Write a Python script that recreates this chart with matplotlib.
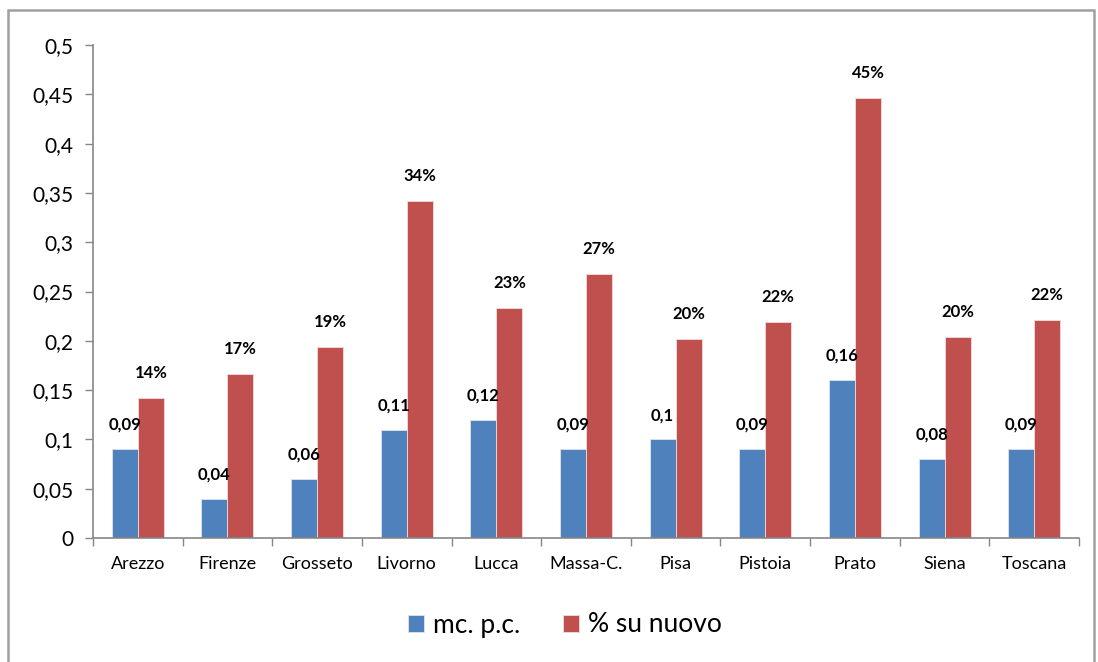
import matplotlib
matplotlib.use("Agg")
import matplotlib.pyplot as plt
import numpy as np
from matplotlib.patches import Rectangle

categories = ["Arezzo", "Firenze", "Grosseto", "Livorno", "Lucca", "Massa-C.",
              "Pisa", "Pistoia", "Prato", "Siena", "Toscana"]
mc_pc = [0.09, 0.04, 0.06, 0.11, 0.12, 0.09, 0.10, 0.09, 0.16, 0.08, 0.09]
su_nuovo = [0.142, 0.166, 0.194, 0.342, 0.233, 0.268, 0.202, 0.219, 0.446, 0.204, 0.221]
series_names = ["mc. p.c.", "% su nuovo"]
yticks = [0, 0.05, 0.1, 0.15, 0.2, 0.25, 0.3, 0.35, 0.4, 0.45, 0.5]

plt.rcParams['font.family'] = ['Lato', 'DejaVu Sans']

W, H = 1098, 662
fig = plt.figure(figsize=(W/100, H/100), dpi=100)
ax = fig.add_axes([93/W, 1-538/H, (1079-93)/W, (538-45)/H])

x = np.arange(len(categories))
bw = 0.29
blue = "#4F81BD"
red = "#C0504D"
b1 = ax.bar(x - bw/2, mc_pc, bw, color=blue, edgecolor="#dfe6f0", linewidth=0.6, label=series_names[0])
b2 = ax.bar(x + bw/2, su_nuovo, bw, color=red, edgecolor="#f0dcdc", linewidth=0.6, label=series_names[1])

def fmt_dec(v):
    s = f"{v:.2f}".rstrip("0").rstrip(".")
    return s.replace(".", ",")

for xi, v in zip(x, mc_pc):
    ax.annotate(fmt_dec(v), (xi - bw/2, v), xytext=(0, 17.5), textcoords="offset points",
                ha="center", va="center", fontsize=12, fontweight="bold")
for xi, v in zip(x, su_nuovo):
    ax.annotate(f"{v*100:.0f}%", (xi + bw/2, v), xytext=(0, 18), textcoords="offset points",
                ha="center", va="center", fontsize=12, fontweight="bold")

ax.set_xlim(-0.5, len(categories) - 0.5)
ax.set_ylim(0, 0.5)
ax.set_yticks(yticks)
ax.set_yticklabels([fmt_dec(t) if t != 0 else "0" for t in yticks], fontsize=15)
ax.set_xticks(x)
ax.set_xticklabels(categories, fontsize=13)
ax.set_xticks(np.arange(-0.5, len(categories)), minor=True)
ax.tick_params(axis="x", which="major", length=0, pad=13)
ax.tick_params(axis="x", which="minor", length=6, color="#868686", width=1)
ax.tick_params(axis="y", length=6, color="#868686", width=1, pad=8)
for s in ["top", "right"]:
    ax.spines[s].set_visible(False)
for s in ["left", "bottom"]:
    ax.spines[s].set_color("#868686")
    ax.spines[s].set_linewidth(1.2)

leg = fig.legend(handles=[b1, b2], labels=series_names, loc="center",
                 bbox_to_anchor=(565/W, 1-625/H), ncol=2, frameon=False,
                 fontsize=19, handlelength=0.6, handleheight=0.6, columnspacing=1.6,
                 handletextpad=0.35)

fig.patches.append(Rectangle((8/W, -0.05), (1094-8)/W, 1.05 - 10/H + 0.0,
                             transform=fig.transFigure, fill=False,
                             edgecolor="#a0a0a0", linewidth=1.8))

fig.savefig("out.png", dpi=100, facecolor="white")
